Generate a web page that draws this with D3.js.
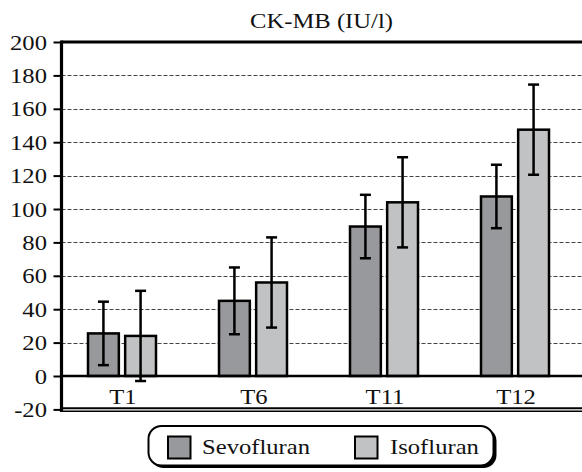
<!DOCTYPE html>
<html><head><meta charset="utf-8">
<script src="https://cdn.jsdelivr.net/npm/d3@7"></script>
<style>html,body{margin:0;padding:0;background:#fff;}svg{display:block;}</style>
</head><body>
<script>
const categories = ["T1", "T6", "T11", "T12"];
const series = ["Sevofluran", "Isofluran"];
const sevoMean = [25.5, 45, 89.5, 107.5];
const sevoSD = [19, 20, 19, 19];
const isoMean = [24, 56, 104, 147.5];
const isoSD = [27, 27, 27, 27];
const yTicks = [-20, 0, 20, 40, 60, 80, 100, 120, 140, 160, 180, 200];
const title = "CK-MB (IU/l)";

const W = 582, H = 472;
const FONT = "'Liberation Serif', 'Times New Roman', serif";
const SX = 1.12;
const colors = {Sevofluran: "#98999d", Isofluran: "#c1c2c4"};

const svg = d3.select("body").append("svg").attr("width", W).attr("height", H);

const axisX = 61.5;
const y = d3.scaleLinear().domain([-20, 200]).range([409.4, 42]);
const x0 = d3.scaleBand().domain(categories).range([56.5, 580.5]).padding(0);
const x1 = d3.scaleBand().domain(series).range([-34, 34]).paddingInner(0.17).paddingOuter(0);

const data = categories.map((c, i) => ({
  cat: c,
  vals: [
    {s: "Sevofluran", m: sevoMean[i], sd: sevoSD[i]},
    {s: "Isofluran", m: isoMean[i], sd: isoSD[i]}
  ]
}));

function stext(g, x, yy, txt, size, anchor) {
  g.append("g").attr("transform", `translate(${x},${yy}) scale(${SX},1)`)
    .append("text").attr("x", 0).attr("y", 0)
    .attr("text-anchor", anchor).attr("font-family", FONT).attr("font-size", size)
    .attr("fill", "#111").text(txt);
}

// grid lines
svg.append("g").selectAll("line").data(yTicks.filter(t => t > 0 && t < 200)).join("line")
  .attr("x1", axisX).attr("x2", W).attr("y1", d => Math.round(y(d)) + 0.5).attr("y2", d => Math.round(y(d)) + 0.5)
  .attr("stroke", "#444").attr("stroke-width", 1).attr("stroke-dasharray", "4,2");

// bars
const gCat = svg.append("g").selectAll("g").data(data).join("g")
  .attr("transform", d => `translate(${x0(d.cat) + x0.bandwidth() / 2},0)`);
gCat.selectAll("rect").data(d => d.vals).join("rect")
  .attr("x", d => x1(d.s)).attr("width", x1.bandwidth())
  .attr("y", d => y(d.m)).attr("height", d => y(0) - y(d.m))
  .attr("fill", d => colors[d.s]).attr("stroke", "#000").attr("stroke-width", 2.5);

// error bars
const eb = gCat.selectAll("g.eb").data(d => d.vals).join("g").attr("class", "eb")
  .attr("transform", d => `translate(${x1(d.s) + x1.bandwidth() / 2},0)`);
eb.append("line").attr("x1", 0).attr("x2", 0)
  .attr("y1", d => y(d.m + d.sd)).attr("y2", d => y(d.m - d.sd))
  .attr("stroke", "#000").attr("stroke-width", 2.5);
eb.append("line").attr("x1", -5.5).attr("x2", 5.5)
  .attr("y1", d => y(d.m + d.sd)).attr("y2", d => y(d.m + d.sd))
  .attr("stroke", "#000").attr("stroke-width", 2.5);
eb.append("line").attr("x1", -5.5).attr("x2", 5.5)
  .attr("y1", d => y(d.m - d.sd)).attr("y2", d => y(d.m - d.sd))
  .attr("stroke", "#000").attr("stroke-width", 2.5);

// zero line
svg.append("line").attr("x1", axisX).attr("x2", W).attr("y1", y(0)).attr("y2", y(0))
  .attr("stroke", "#000").attr("stroke-width", 2.5);
// top line
svg.append("line").attr("x1", axisX).attr("x2", W).attr("y1", y(200)).attr("y2", y(200))
  .attr("stroke", "#000").attr("stroke-width", 3);
// bottom double line
svg.append("line").attr("x1", axisX).attr("x2", W).attr("y1", 408.3).attr("y2", 408.3)
  .attr("stroke", "#000").attr("stroke-width", 2);
svg.append("line").attr("x1", axisX).attr("x2", W).attr("y1", 411.2).attr("y2", 411.2)
  .attr("stroke", "#000").attr("stroke-width", 1.4);

// y axis
const yAxis = d3.axisLeft(y).tickValues(yTicks).tickSize(8).tickFormat("");
const ga = svg.append("g").attr("transform", `translate(${axisX},0)`).call(yAxis);
ga.select(".domain").remove();
ga.selectAll(".tick line").attr("stroke", "#000").attr("stroke-width", 2);
svg.append("line").attr("x1", axisX).attr("x2", axisX).attr("y1", 40.5).attr("y2", 412)
  .attr("stroke", "#000").attr("stroke-width", 3.2);
const tl = svg.append("g");
yTicks.forEach(t => stext(tl, 47, y(t) + 7.5, String(t), 22, "end"));

// category labels
const cl = svg.append("g");
categories.forEach(c => stext(cl, x0(c) + x0.bandwidth() / 2 + 1, 404, c, 22, "middle"));

// title
stext(svg, 321.5, 28, title, 22, "middle");

// legend
const lg = svg.append("g");
lg.append("rect").attr("x", 150.5).attr("y", 428).attr("width", 346).attr("height", 40)
  .attr("rx", 13).attr("fill", "#000");
lg.append("rect").attr("x", 148.5).attr("y", 426).attr("width", 345).attr("height", 39.5)
  .attr("rx", 13).attr("fill", "#fff").attr("stroke", "#000").attr("stroke-width", 2);
const legendX = [{s: "Sevofluran", sx: 168, tx: 202}, {s: "Isofluran", sx: 355, tx: 390}];
legendX.forEach(l => {
  lg.append("rect").attr("x", l.sx).attr("y", 436.5).attr("width", 22.5).attr("height", 22)
    .attr("fill", colors[l.s]).attr("stroke", "#000").attr("stroke-width", 2);
  stext(lg, l.tx, 453.5, l.s, 22, "start");
});
</script>
</body></html>
